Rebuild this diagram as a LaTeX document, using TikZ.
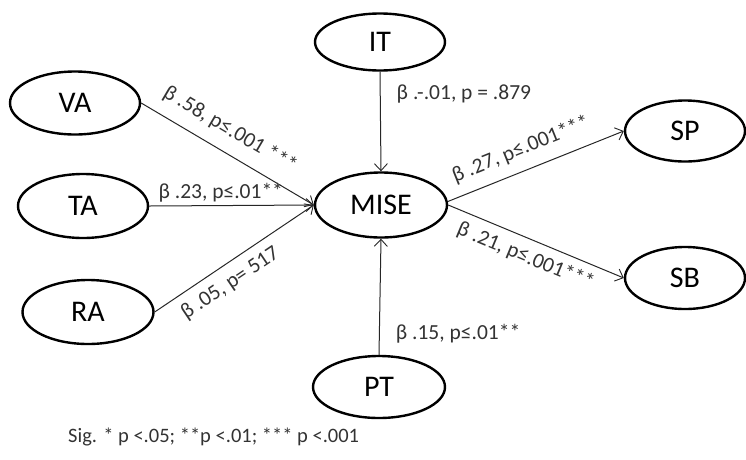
\documentclass[tikz,border=0pt]{standalone}
\usepackage{fontspec}
\setmainfont{Carlito}
\usetikzlibrary{arrows.meta,shapes.geometric}
\begin{document}
\begin{tikzpicture}[x=1pt,y=-1pt,
  construct/.style={ellipse, draw=black, line width=2.4pt, inner sep=0pt,
    font=\fontsize{30}{34}\selectfont},
  linkpath/.style={line width=1pt, draw=black!85, -{Straight Barb[length=7pt,width=13pt,line width=0.9pt]}},
  coef/.style={font=\fontsize{21.5}{24}\selectfont, text=black!80, inner sep=0pt}]
\useasboundingbox (0,0) rectangle (746,459);
% latent constructs
\node[construct, minimum width=130pt, minimum height=63pt] (VA) at (75,103) {VA};
\node[construct, minimum width=130pt, minimum height=64pt] (TA) at (83,206) {TA};
\node[construct, minimum width=131pt, minimum height=64pt] (RA) at (88,312) {RA};
\node[construct, minimum width=130pt, minimum height=57pt] (IT) at (380,42) {IT};
\node[construct, minimum width=132pt, minimum height=65pt] (MISE) at (381,205) {MISE};
\node[construct, minimum width=120pt, minimum height=61pt] (SP) at (685,131) {SP};
\node[construct, minimum width=120pt, minimum height=62pt] (SB) at (685,278) {SB};
\node[construct, minimum width=132pt, minimum height=62pt] (PT) at (379,387) {PT};
% structural paths with coefficients
\draw[linkpath] (VA.east) -- node[coef, pos=0.45, sloped, above=12pt] (lVA) {β .58, p≤.001 ***} (MISE.west);
\draw[linkpath] (TA.east) -- node[coef, pos=0.054, anchor=base west, yshift=7pt] (lTA) {β .23, p≤.01**} (MISE.west);
\draw[linkpath] (RA.east) -- node[coef, pos=0.41, sloped, below=9pt] (lRA) {β .05, p= 517} (MISE.west);
\draw[linkpath] (IT.south) -- node[coef, pos=0.22, anchor=west, xshift=16pt] (lIT) {β .-.01, p = .879} (MISE.north);
\draw[linkpath] (PT.north) -- node[coef, pos=0.18, anchor=west, xshift=16pt] (lPT) {β .15, p≤.01**} (MISE.south);
\draw[linkpath] (MISE.3) -- node[coef, pos=0.46, sloped, above=11pt] (lSP) {β .27, p≤.001***} (SP.west);
\draw[linkpath] (MISE.east) -- node[coef, pos=0.48, sloped, below=8pt] (lSB) {β .21, p≤.001***} (SB.west);
% significance legend
\node[coef, anchor=west, font=\fontsize{20.5}{23}\selectfont] (sig) at (68,437) {Sig. * p <.05; **p <.01; *** p <.001};
\end{tikzpicture}
\end{document}
